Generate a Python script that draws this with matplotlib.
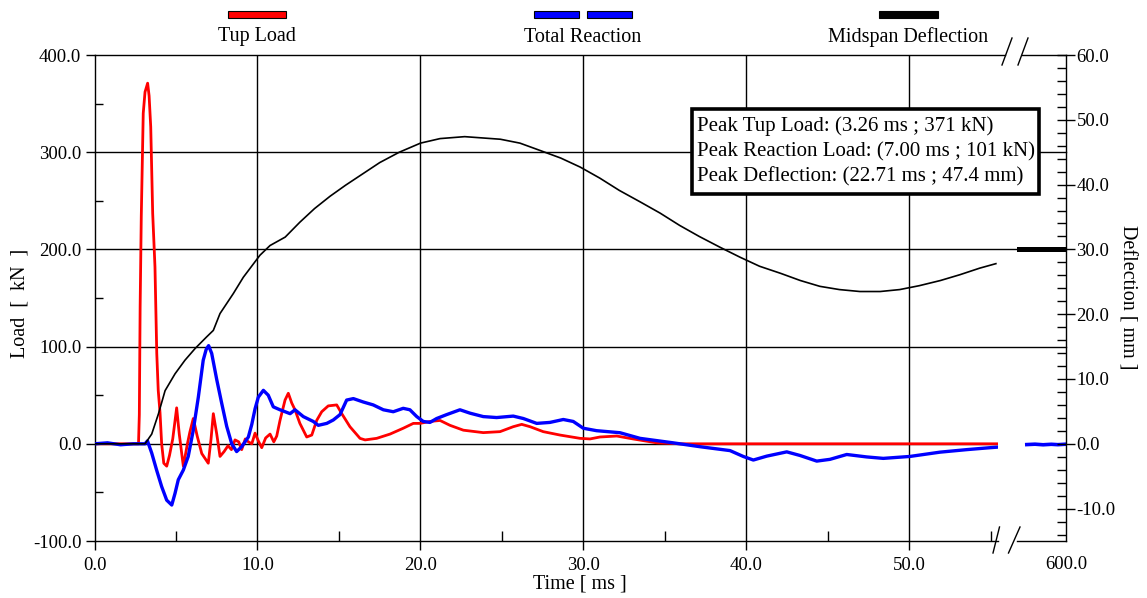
import matplotlib
matplotlib.use("Agg")
import matplotlib.pyplot as plt
from matplotlib.lines import Line2D
from matplotlib.patches import Rectangle
from matplotlib.ticker import FixedLocator

# ---------------------------------------------------------------- data
# Tup load [kN] against time [ms]
tup_time = [0.00, 2.70, 2.75, 2.80, 2.87, 2.99, 3.10, 3.26, 3.35, 3.45,
            3.57, 3.71, 3.82, 3.91, 4.02, 4.12, 4.25, 4.43, 4.60, 4.80,
            5.04, 5.20, 5.45, 5.70, 5.85, 6.06, 6.30, 6.58, 6.98, 7.15,
            7.29, 7.50, 7.70, 7.95, 8.19, 8.40, 8.62, 8.85, 9.03, 9.25,
            9.44, 9.65, 9.85, 10.05, 10.26, 10.50, 10.77, 11.00, 11.18, 11.38,
            11.69, 11.89, 12.10, 12.30, 12.60, 13.02, 13.33, 13.63, 13.94, 14.34,
            14.86, 15.17, 15.67, 16.29, 16.60, 17.31, 18.13, 18.94, 19.56, 19.97,
            20.58, 21.20, 21.81, 22.63, 23.85, 24.88, 25.69, 26.21, 26.72, 27.53,
            28.56, 29.79, 30.40, 31.01, 32.04, 33.04, 34.49, 35.90, 45.00, 55.43]
tup_load = [0, 0, 30, 141, 234, 340, 362, 371, 358, 326,
            237, 182, 93, 55, 32, 0, -20, -23, -12, 5,
            37, 10, -23, 0, 12, 26, 8, -10, -20, 5,
            31, 10, -13, -8, -2, -6, 4, 2, -6, 5,
            2, 0, 11, 3, -4, 6, 10, 2, 8, 24,
            45, 52, 42, 35, 21, 7, 9, 24, 33, 39,
            40, 31, 17.6, 5.6, 4, 5.6, 10, 16, 21, 21,
            23, 24, 19, 14, 11.5, 12.5, 17.6, 20, 17.6, 12.5,
            9, 5.6, 5, 7, 8, 5, 1, 0, 0, 0]

# Total reaction [kN] against time [ms]
react_time = [0.00, 0.80, 1.60, 2.40, 3.10, 3.25, 3.51, 3.81, 4.12, 4.43,
              4.74, 4.94, 5.14, 5.45, 5.75, 6.06, 6.37, 6.67, 6.85, 7.00,
              7.19, 7.50, 7.80, 8.11, 8.42, 8.72, 9.03, 9.44, 9.65, 9.85,
              10.05, 10.36, 10.66, 10.97, 11.38, 12.00, 12.30, 12.81, 13.42, 13.73,
              14.25, 14.65, 15.06, 15.47, 15.88, 16.49, 17.10, 17.72, 18.33, 18.94,
              19.35, 19.77, 20.17, 20.58, 20.99, 21.60, 22.42, 23.04, 23.85, 24.67,
              25.69, 26.31, 27.13, 27.94, 28.76, 29.37, 29.99, 30.80, 32.24, 33.47,
              35.50, 37.15, 38.99, 39.80, 40.42, 41.24, 42.47, 43.28, 44.31, 45.12,
              46.15, 47.37, 48.39, 50.03, 51.87, 53.51, 54.94, 55.43]
react_load = [0, 1, -1, 0, 0, 3, -9.5, -27, -44, -58,
              -63, -51, -37, -27, -13, 14, 48, 86, 97, 101,
              93, 66, 42, 18, 0, -8, -3, 7, 20, 36,
              48, 55, 50, 38, 35, 31, 35, 28, 23, 19,
              21, 24.5, 30, 45, 46.5, 43, 40, 35, 33, 36.5,
              35, 28, 23, 22, 26, 30, 35, 31.5, 28, 27,
              28.5, 26, 21, 22, 25, 23, 16, 13.5, 11.4, 5.6,
              1, -3, -7, -13, -16.7, -12.7, -8.3, -12, -17.8, -16,
              -11, -13.5, -15, -13, -8.6, -6, -4, -3.4]

# Reaction record near the end of the acquisition window
tail_time = [597.6, 598.1, 598.6, 599.1, 599.5, 600.0]
tail_load = [-0.8, -0.4, -1.0, -0.5, -0.9, -0.4]

# Midspan deflection [mm] against time [ms]
defl_time = [0.00, 3.10, 3.51, 3.92, 4.33, 4.94, 5.55, 6.17, 6.88, 7.29,
             7.70, 8.52, 9.13, 10.15, 10.77, 11.70, 12.60, 13.50, 14.45, 15.40,
             16.30, 17.50, 18.70, 20.00, 21.20, 22.71, 24.90, 26.10, 27.30, 28.60,
             29.80, 31.00, 32.20, 33.50, 34.70, 35.90, 37.10, 38.40, 39.60, 40.80,
             42.10, 43.30, 44.50, 45.70, 46.96, 48.20, 49.40, 50.60, 51.90, 53.10,
             54.30, 55.30]
defl_mm = [0, 0, 1.5, 4.6, 8.2, 10.8, 12.9, 14.7, 16.5, 17.5,
           20.1, 23.2, 25.7, 29.1, 30.6, 31.9, 34.2, 36.3, 38.2, 39.9,
           41.4, 43.4, 45.0, 46.4, 47.1, 47.4, 47.0, 46.4, 45.3, 44.1,
           42.7, 41.0, 39.1, 37.3, 35.6, 33.7, 32.0, 30.3, 28.8, 27.4,
           26.3, 25.2, 24.3, 23.8, 23.5, 23.5, 23.8, 24.4, 25.2, 26.1,
           27.1, 27.8]
defl_cursor = 30.0

load_ticks = [-100, 0, 100, 200, 300, 400]
time_ticks = [0, 10, 20, 30, 40, 50]
defl_ticks = [-10, 0, 10, 20, 30, 40, 50, 60]

peak_lines = ["Peak Tup Load: (3.26 ms ; 371 kN)",
              "Peak Reaction Load: (7.00 ms ; 101 kN)",
              "Peak Deflection: (22.71 ms ; 47.4 mm)"]
series_names = ["Tup Load", "Total Reaction", "Midspan Deflection"]

# ---------------------------------------------------------------- layout
W, H = 1147, 598
plt.rcParams['font.family'] = ['Liberation Serif', 'DejaVu Serif']
plt.rcParams['font.size'] = 13.5
plt.rcParams['axes.linewidth'] = 1.0

fig = plt.figure(figsize=(W / 100, H / 100), dpi=100)


def fx(px):
    return px / W


def fy(py):
    return 1 - py / H


X0, X1, X2, X3 = 94.5, 998.0, 1017.0, 1066.0
Y0, Y1 = 55.0, 541.0
RED, BLUE, INK = '#ff0000', '#0000ff', '#000000'

ax1 = fig.add_axes([fx(X0), fy(Y1), fx(X1) - fx(X0), fy(Y0) - fy(Y1)])
ax2 = fig.add_axes([fx(X2), fy(Y1), fx(X3) - fx(X2), fy(Y0) - fy(Y1)])
ax2.patch.set_visible(False)
ax1r = ax1.twinx()
ax2r = ax2.twinx()

ax1.set_xlim(0, 55.43)
ax1.set_ylim(-100, 400)
ax2.set_xlim(597.0, 600.0)
ax2.set_ylim(-100, 400)
for a in (ax1r, ax2r):
    a.set_ylim(-15, 60)

# spines
ax1.spines['top'].set_visible(False)
ax1.spines['right'].set_visible(False)
for s in ('top', 'left', 'right'):
    ax2.spines[s].set_visible(False)
for s in ax1r.spines.values():
    s.set_visible(False)
for s in ('top', 'left', 'bottom'):
    ax2r.spines[s].set_visible(False)

# ticks: main time / load axes
ax1.set_xticks(time_ticks)
ax1.set_xticklabels([f"{v:.1f}" for v in time_ticks])
ax1.xaxis.set_minor_locator(FixedLocator([v + 5 for v in time_ticks]))
ax1.set_yticks(load_ticks)
ax1.set_yticklabels([f"{v:.1f}" for v in load_ticks])
ax1.yaxis.set_minor_locator(FixedLocator([v + 50 for v in load_ticks[:-1]]))
ax1.tick_params(axis='both', which='major', direction='out', length=6.5,
                width=1.0, colors=INK, pad=3)
ax1.tick_params(axis='x', which='major', pad=5)
ax1.tick_params(axis='x', which='minor', direction='in', length=7.5, width=1.0)
ax1.tick_params(axis='y', which='minor', direction='in', length=6, width=1.0)
ax1r.set_yticks([])

# ticks: tail segment and deflection axis
ax2.set_xticks([600])
ax2.set_xticklabels(["600.0"])
ax2.tick_params(axis='x', which='major', direction='out', length=0, pad=11)
ax2.set_yticks([])
ax2r.set_yticks(defl_ticks)
ax2r.set_yticklabels([f"{v:.1f}" for v in defl_ticks])
ax2r.yaxis.set_minor_locator(FixedLocator([v for v in range(-14, 60, 2)
                                            if v % 10]))
ax2r.tick_params(axis='y', which='major', direction='inout', length=13,
                 width=1.0, pad=1)
ax2r.tick_params(axis='y', which='minor', direction='in', length=6.5, width=1.0)

# grid
for v in time_ticks[1:]:
    ax1.axvline(v, color=INK, lw=1.0, zorder=0.5)
ax1.axhline(0, color=INK, lw=1.0, zorder=0.5)
span = (X3 - X0) / (X1 - X0)
for v in load_ticks[2:-1]:
    ax1.axhline(v, xmin=0, xmax=span, color=INK, lw=1.0, zorder=0.5,
                clip_on=False)

# curves
ax1.plot(tup_time, tup_load, color=RED, lw=2.0, zorder=2)
ax1.plot(react_time, react_load, color=BLUE, lw=2.4, zorder=3)
ax2.plot(tail_time, tail_load, color=BLUE, lw=2.6, zorder=3)
ax1r.plot(defl_time, defl_mm, color=INK, lw=1.2, zorder=4)
ax2r.axhline(defl_cursor, color=INK, lw=3.6, zorder=4)

# frame top and axis breaks
for xs, ys in (([X0, 1005], [Y0, Y0]), ([1022, X3], [Y0, Y0]),
               ([1002, 1012], [65, 38]), ([1018, 1028], [65, 38]),
               ([993, 999.5], [553, 527]), ([1008.5, 1020], [553, 527])):
    fig.add_artist(Line2D([fx(x) for x in xs], [fy(y) for y in ys],
                          color=INK, lw=1.0, transform=fig.transFigure))

# axis titles
fig.text(fx(20), fy(303), "Load  [  kN  ]", rotation=90, ha='center',
         va='center', fontsize=14.5)
fig.text(fx(580), fy(584), "Time [ ms ]", ha='center', va='center',
         fontsize=14.5)
fig.text(fx(1127), fy(297), "Deflection [ mm ]", rotation=270, ha='center',
         va='center', fontsize=14.5)

# legend across the top
legend_boxes = [(228, 286, RED), (534, 579, BLUE), (587, 632, BLUE),
                (879, 938, INK)]
for xa, xb, c in legend_boxes:
    fig.add_artist(Rectangle((fx(xa), fy(17.5)), fx(xb) - fx(xa), 6.5 / H,
                             facecolor=c, edgecolor=INK, lw=0.8,
                             transform=fig.transFigure))
for name, cx in zip(series_names, (257, 583, 908)):
    fig.text(fx(cx), fy(37), name, ha='center', va='center', fontsize=14.5)

# peak value summary
fig.add_artist(Rectangle((fx(691.5), fy(194)), fx(1038.5) - fx(691.5),
                         (194 - 109) / H, facecolor='white', edgecolor=INK,
                         lw=2.6, transform=fig.transFigure, zorder=5))
for line, cy in zip(peak_lines, (126, 152, 177)):
    fig.text(fx(697), fy(cy), line, ha='left', va='center', zorder=6,
             fontsize=15)

fig.savefig("out.png", dpi=100)
